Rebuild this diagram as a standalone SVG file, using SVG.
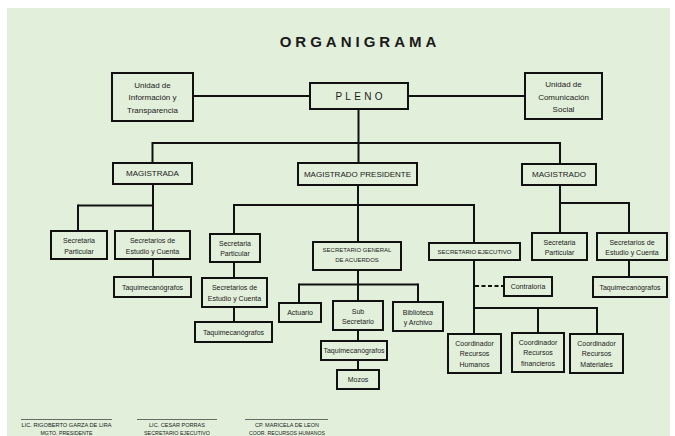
<svg xmlns="http://www.w3.org/2000/svg" width="675" height="436" viewBox="0 0 675 436">
<style>
  .bg { fill: #E2EFDA; }
  .box { fill: #E2EFDA; stroke: #111; stroke-width: 2; }
  .ln { fill: none; stroke: #111; stroke-width: 2; }
  .dash { fill: none; stroke: #111; stroke-width: 2; stroke-dasharray: 4 2.5; }
  .sig { fill: none; stroke: #333; stroke-width: 0.7; }
  text { font-family: "Liberation Sans", Arial, sans-serif; fill: #1a1a1a; text-anchor: middle; }
  .t8 { font-size: 8px; }
  .t7 { font-size: 7px; }
  .t6 { font-size: 6px; }
  .title { font-size: 15px; font-weight: bold; letter-spacing: 4px; }
  .pleno { font-size: 10px; letter-spacing: 3.3px; }
  .foot { font-size: 5.6px; }
</style>
<rect class="bg" x="7" y="8" width="663" height="428"/>
<text id="title" class="title" x="360" y="47">ORGANIGRAMA</text>

<g id="connectors">
  <line class="ln" x1="193" y1="96" x2="310" y2="96"/>
  <line class="ln" x1="408" y1="96" x2="525" y2="96"/>
  <line class="ln" x1="358.5" y1="109" x2="358.5" y2="163"/>
  <line class="ln" x1="152.5" y1="143" x2="560" y2="143"/>
  <line class="ln" x1="152.5" y1="142" x2="152.5" y2="163"/>
  <line class="ln" x1="560" y1="142" x2="560" y2="164"/>
  <!-- Magistrada -->
  <line class="ln" x1="153" y1="184" x2="153" y2="231"/>
  <line class="ln" x1="78" y1="205.5" x2="154" y2="205.5"/>
  <line class="ln" x1="78" y1="204.5" x2="78" y2="231"/>
  <line class="ln" x1="153" y1="259" x2="153" y2="277"/>
  <!-- Magistrado Presidente -->
  <line class="ln" x1="358" y1="185" x2="358" y2="242"/>
  <line class="ln" x1="234" y1="205" x2="474" y2="205"/>
  <line class="ln" x1="234" y1="204" x2="234" y2="234"/>
  <line class="ln" x1="474" y1="204" x2="474" y2="243"/>
  <line class="ln" x1="234" y1="262" x2="234" y2="278"/>
  <line class="ln" x1="234" y1="307" x2="234" y2="322"/>
  <line class="ln" x1="358" y1="270" x2="358" y2="301"/>
  <line class="ln" x1="299" y1="284.5" x2="418" y2="284.5"/>
  <line class="ln" x1="299" y1="283.5" x2="299" y2="303"/>
  <line class="ln" x1="418" y1="283.5" x2="418" y2="302"/>
  <line class="ln" x1="358" y1="330" x2="358" y2="341"/>
  <line class="ln" x1="358" y1="360" x2="358" y2="370"/>
  <!-- Secretario Ejecutivo -->
  <line class="ln" x1="474" y1="260" x2="474" y2="334"/>
  <line class="dash" x1="475" y1="286" x2="504" y2="286"/>
  <line class="ln" x1="474" y1="308" x2="597" y2="308"/>
  <line class="ln" x1="538" y1="307" x2="538" y2="333"/>
  <line class="ln" x1="597" y1="307" x2="597" y2="334"/>
  <!-- Magistrado -->
  <line class="ln" x1="560" y1="185" x2="560" y2="233"/>
  <line class="ln" x1="559" y1="203" x2="629" y2="203"/>
  <line class="ln" x1="629" y1="202" x2="629" y2="233"/>
  <line class="ln" x1="629" y1="260" x2="629" y2="277"/>
</g>

<g id="unidad-informacion">
  <rect class="box" x="112" y="73" width="81" height="48"/>
  <text class="t8" x="152.5" y="87.8">Unidad de</text>
  <text class="t8" x="152.5" y="100.3">Información y</text>
  <text class="t8" x="152.5" y="112.8">Transparencia</text>
</g>
<g id="pleno">
  <rect class="box" x="310" y="83" width="98" height="26"/>
  <text class="pleno" x="360.6" y="99.5">PLENO</text>
</g>
<g id="unidad-comunicacion">
  <rect class="box" x="525" y="73" width="77" height="46"/>
  <text class="t8" x="563.5" y="86.8">Unidad de</text>
  <text class="t8" x="563.5" y="99.5">Comunicación</text>
  <text class="t8" x="563.5" y="112.1">Social</text>
</g>

<g id="magistrada">
  <rect class="box" x="113" y="163" width="79" height="21"/>
  <text class="t8" x="152.5" y="176.4">MAGISTRADA</text>
</g>
<g id="magistrado-presidente">
  <rect class="box" x="298" y="163" width="119" height="22"/>
  <text class="t8" x="357.5" y="176.9">MAGISTRADO PRESIDENTE</text>
</g>
<g id="magistrado">
  <rect class="box" x="522" y="164" width="74" height="21"/>
  <text class="t8" x="559" y="177.4">MAGISTRADO</text>
</g>

<g id="secretaria-particular-1">
  <rect class="box" x="51" y="231" width="56" height="28"/>
  <text class="t7" x="79" y="242.5">Secretaria</text>
  <text class="t7" x="79" y="253.5">Particular</text>
</g>
<g id="secretarios-estudio-1">
  <rect class="box" x="115" y="231" width="75" height="28"/>
  <text class="t7" x="152.5" y="243">Secretarios de</text>
  <text class="t7" x="152.5" y="253.5">Estudio y Cuenta</text>
</g>
<g id="taquimecanografos-1">
  <rect class="box" x="114" y="277" width="77" height="20"/>
  <text class="t7" x="152.5" y="289.5">Taquimecanógrafos</text>
</g>

<g id="secretaria-particular-2">
  <rect class="box" x="210" y="234" width="50" height="28"/>
  <text class="t7" x="235" y="245.5">Secretaria</text>
  <text class="t7" x="235" y="256">Particular</text>
</g>
<g id="secretarios-estudio-2">
  <rect class="box" x="202" y="278" width="65" height="29"/>
  <text class="t7" x="234.5" y="290">Secretarios de</text>
  <text class="t7" x="234.5" y="300.5">Estudio y Cuenta</text>
</g>
<g id="taquimecanografos-2">
  <rect class="box" x="195" y="322" width="77" height="20"/>
  <text class="t7" x="233.5" y="334.5">Taquimecanógrafos</text>
</g>

<g id="secretario-general">
  <rect class="box" x="313" y="242" width="88" height="28"/>
  <text class="t6" x="357" y="252.2">SECRETARIO GENERAL</text>
  <text class="t6" x="357" y="262.2">DE ACUERDOS</text>
</g>
<g id="actuario">
  <rect class="box" x="279" y="303" width="42" height="19"/>
  <text class="t7" x="300" y="315">Actuario</text>
</g>
<g id="sub-secretario">
  <rect class="box" x="333" y="301" width="50" height="29"/>
  <text class="t7" x="358" y="313.5">Sub</text>
  <text class="t7" x="358" y="323.5">Secretario</text>
</g>
<g id="biblioteca">
  <rect class="box" x="393" y="302" width="50" height="29"/>
  <text class="t7" x="418" y="314.5">Biblioteca</text>
  <text class="t7" x="418" y="324.5">y Archivo</text>
</g>
<g id="taquimecanografos-3">
  <rect class="box" x="321" y="341" width="66" height="19"/>
  <text class="t7" x="354" y="353">Taquimecanógrafos</text>
</g>
<g id="mozos">
  <rect class="box" x="337" y="370" width="42" height="19"/>
  <text class="t7" x="358" y="382">Mozos</text>
</g>

<g id="secretario-ejecutivo">
  <rect class="box" x="429" y="243" width="91" height="17"/>
  <text class="t6" x="474.5" y="253.6">SECRETARIO EJECUTIVO</text>
</g>
<g id="contraloria">
  <rect class="box" x="504" y="277" width="48" height="19"/>
  <text class="t7" x="528" y="289">Contraloría</text>
</g>
<g id="coord-humanos">
  <rect class="box" x="448" y="334" width="53" height="39"/>
  <text class="t7" x="474.5" y="345.5">Coordinador</text>
  <text class="t7" x="474.5" y="356">Recursos</text>
  <text class="t7" x="474.5" y="366.5">Humanos</text>
</g>
<g id="coord-financieros">
  <rect class="box" x="512" y="333" width="52" height="39"/>
  <text class="t7" x="538" y="344.5">Coordinador</text>
  <text class="t7" x="538" y="355">Recursos</text>
  <text class="t7" x="538" y="365.5">financieros</text>
</g>
<g id="coord-materiales">
  <rect class="box" x="570" y="334" width="53" height="39"/>
  <text class="t7" x="596.5" y="345.5">Coordinador</text>
  <text class="t7" x="596.5" y="356">Recursos</text>
  <text class="t7" x="596.5" y="366.5">Materiales</text>
</g>

<g id="secretaria-particular-3">
  <rect class="box" x="532" y="233" width="55" height="27"/>
  <text class="t7" x="559.5" y="244.5">Secretaria</text>
  <text class="t7" x="559.5" y="255">Particular</text>
</g>
<g id="secretarios-estudio-3">
  <rect class="box" x="597" y="233" width="70" height="27"/>
  <text class="t7" x="632" y="244.5">Secretarios de</text>
  <text class="t7" x="632" y="255">Estudio y Cuenta</text>
</g>
<g id="taquimecanografos-4">
  <rect class="box" x="593" y="277" width="74" height="20"/>
  <text class="t7" x="630" y="289.5">Taquimecanógrafos</text>
</g>

<g id="firmas">
  <line class="sig" x1="21" y1="419.5" x2="112" y2="419.5"/>
  <line class="sig" x1="137" y1="419.5" x2="217" y2="419.5"/>
  <line class="sig" x1="245" y1="419.5" x2="328" y2="419.5"/>
  <text class="foot" x="66.5" y="426.5" textLength="90" lengthAdjust="spacingAndGlyphs">LIC. RIGOBERTO GARZA DE LIRA</text>
  <text class="foot" x="66.5" y="434.6" textLength="52" lengthAdjust="spacingAndGlyphs">MGTO. PRESIDENTE</text>
  <text class="foot" x="177" y="426.5" textLength="56" lengthAdjust="spacingAndGlyphs">LIC. CESAR PORRAS</text>
  <text class="foot" x="177" y="434.6" textLength="66" lengthAdjust="spacingAndGlyphs">SECRETARIO EJECUTIVO</text>
  <text class="foot" x="287" y="426.5" textLength="64" lengthAdjust="spacingAndGlyphs">CP. MARICELA DE LEON</text>
  <text class="foot" x="287" y="434.6" textLength="76" lengthAdjust="spacingAndGlyphs">COOR. RECURSOS HUMANOS</text>
</g>
</svg>
